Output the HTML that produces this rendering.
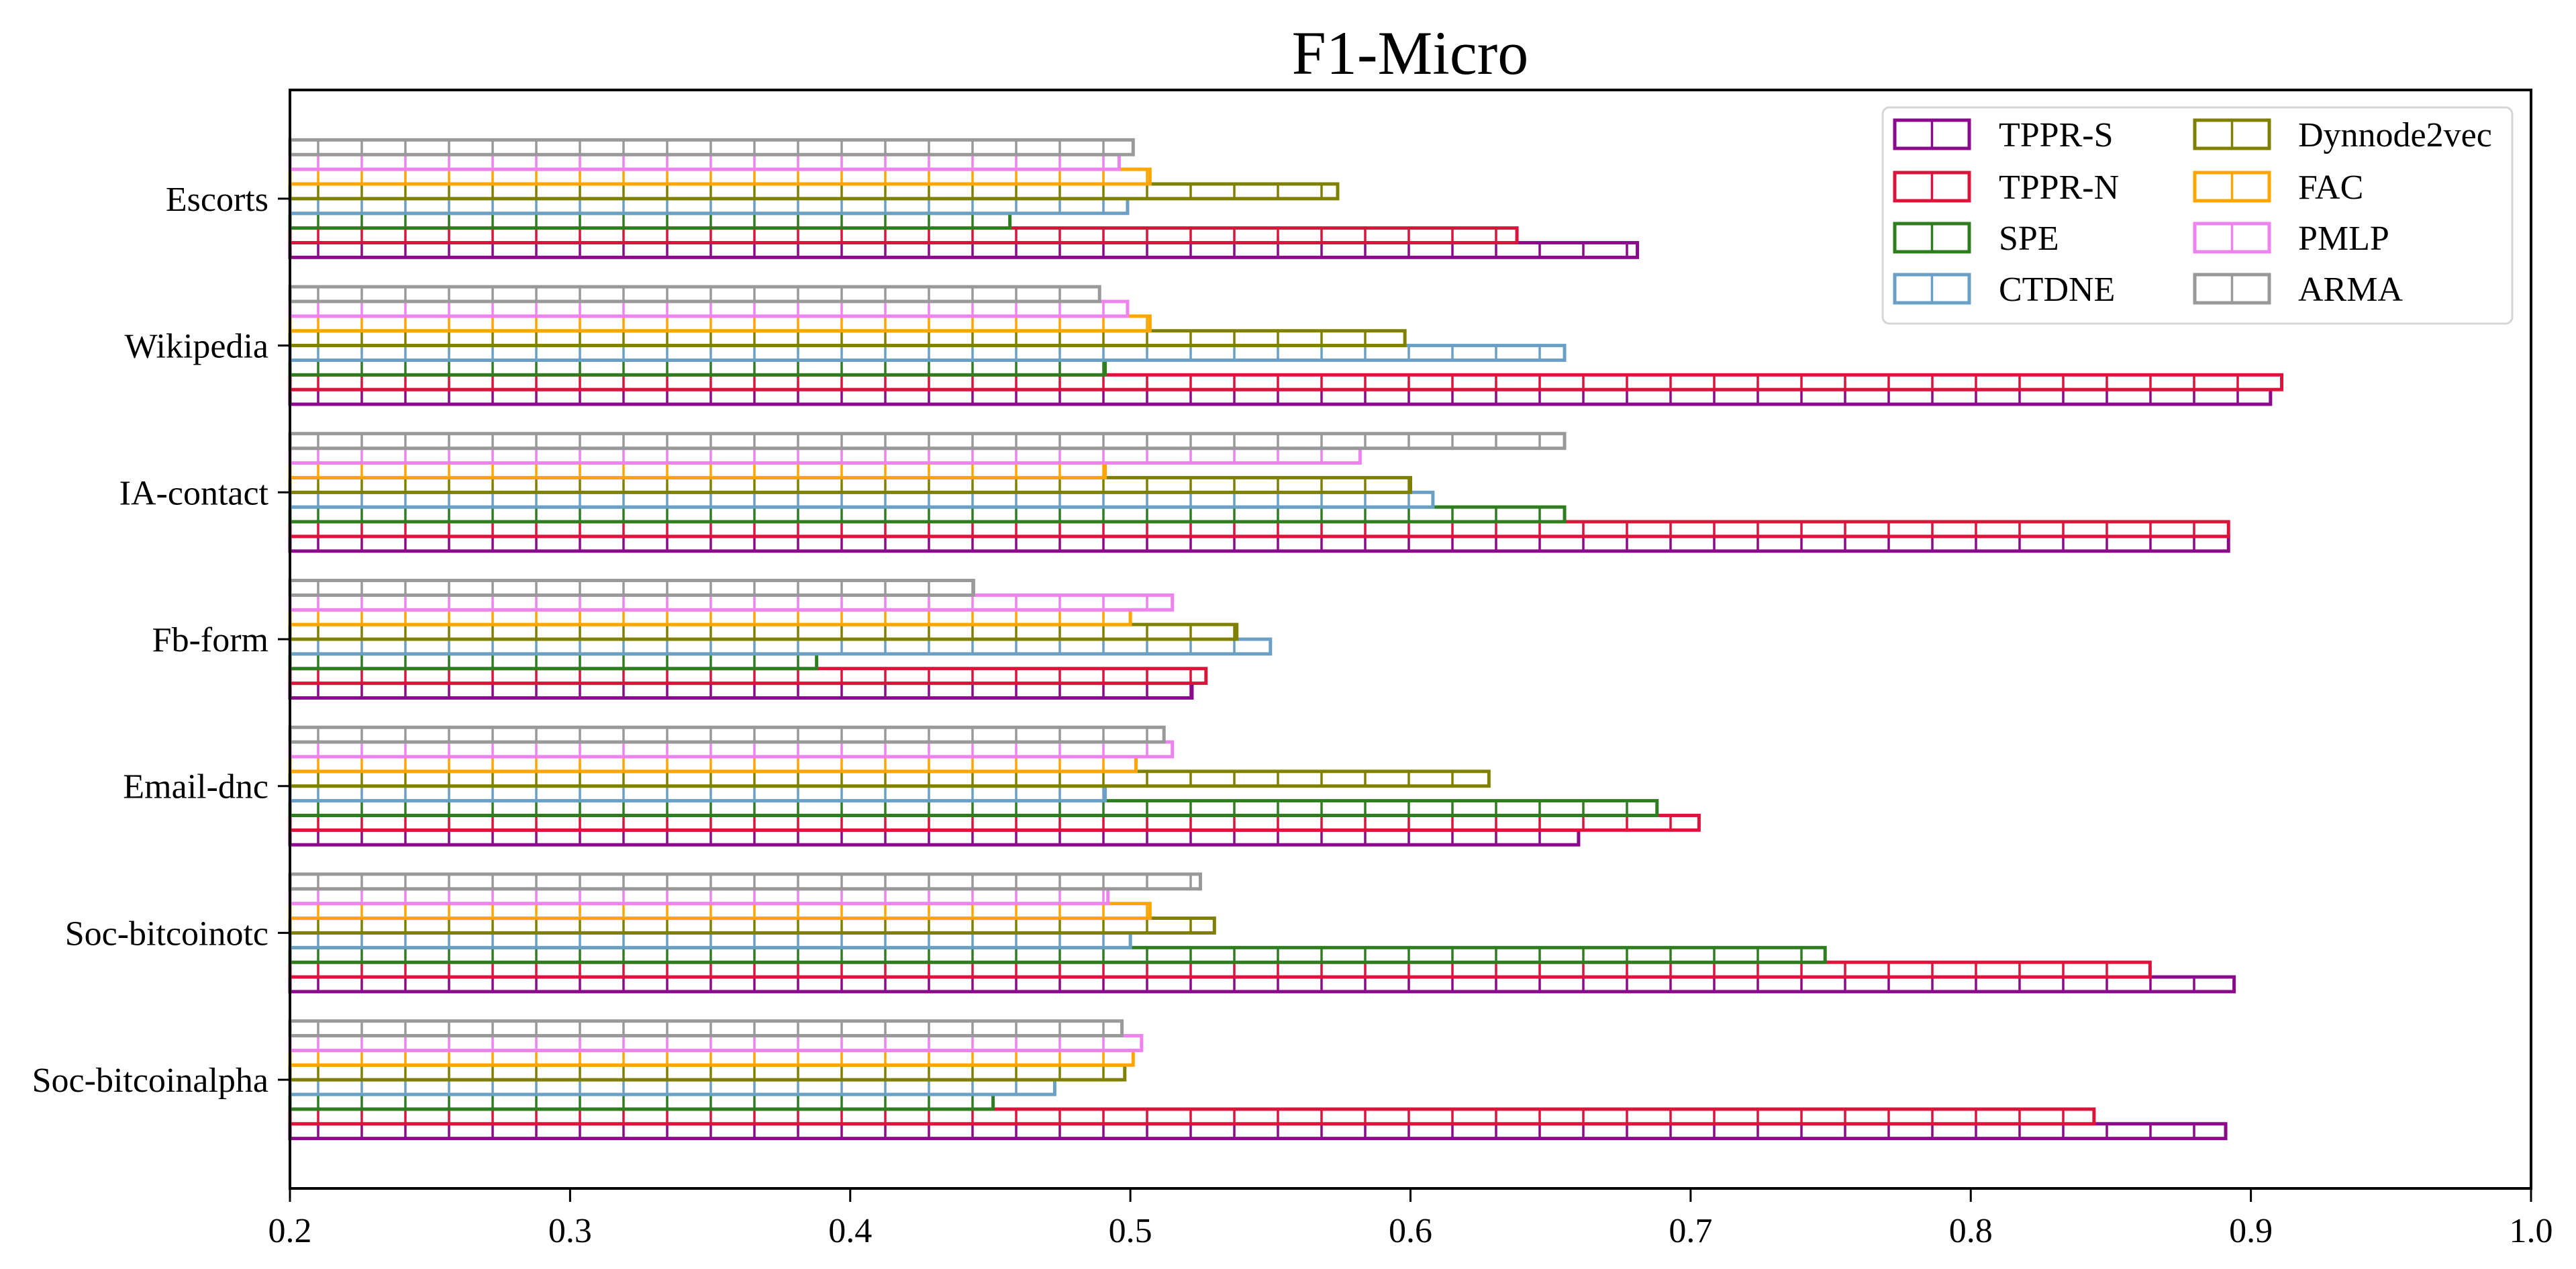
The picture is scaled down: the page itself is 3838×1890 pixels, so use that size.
<!DOCTYPE html>
<html><head><meta charset="utf-8"><style>
html,body{margin:0;padding:0;background:#fff;}
svg{display:block;font-family:"Liberation Serif","Times New Roman",serif;}
</style></head><body>
<svg id="chart" width="3838" height="1890" viewBox="0 0 3838 1890" xmlns="http://www.w3.org/2000/svg">
<defs id="defs"></defs>
<rect x="0" y="0" width="3838" height="1890" fill="#fff"/>
<text x="2101" y="110" font-size="92" text-anchor="middle" fill="#000">F1-Micro</text>
<g id="bars"></g>
<g id="axes"></g>
<g id="legend"></g>
</svg>
<script>
const categories = ["Soc-bitcoinalpha","Soc-bitcoinotc","Email-dnc","Fb-form","IA-contact","Wikipedia","Escorts"];
const seriesNames = ["TPPR-S","TPPR-N","SPE","CTDNE","Dynnode2vec","FAC","PMLP","ARMA"];
const seriesColors = ["#8B0A8B","#DC143C","#2E7D1F","#6A9FC6","#808000","#FFA500","#EE82EE","#999999"];
const tpprS = [0.891,0.894,0.660,0.522,0.892,0.907,0.681];
const tpprN = [0.844,0.864,0.703,0.527,0.892,0.911,0.638];
const spe = [0.451,0.748,0.688,0.388,0.655,0.491,0.457];
const ctdne = [0.473,0.500,0.491,0.550,0.608,0.655,0.499];
const dyn = [0.498,0.530,0.628,0.538,0.600,0.598,0.574];
const fac = [0.501,0.507,0.502,0.500,0.491,0.507,0.507];
const pmlp = [0.504,0.492,0.515,0.515,0.582,0.499,0.496];
const arma = [0.497,0.525,0.512,0.444,0.655,0.489,0.501];
const xTicks = [0.2,0.3,0.4,0.5,0.6,0.7,0.8,0.9,1.0];
const xTickLabels = ["0.2","0.3","0.4","0.5","0.6","0.7","0.8","0.9","1.0"];

const series = [tpprS,tpprN,spe,ctdne,dyn,fac,pmlp,arma];
const NS = "http://www.w3.org/2000/svg";
const L = 432, R = 3771, T = 134, B = 1770;
const xMin = 0.2, xMax = 1.0, yMin = -0.74, yMax = 6.74;
function xs(v){ return L + (v - xMin) / (xMax - xMin) * (R - L); }
function ys(c){ return B - (c - yMin) / (yMax - yMin) * (B - T); }
const catStep = (B - T) / (yMax - yMin);
const bh = 0.8 * catStep / seriesNames.length;

function mk(tag, attrs, parent){
  const e = document.createElementNS(NS, tag);
  for (const k in attrs) e.setAttribute(k, attrs[k]);
  parent.appendChild(e);
  return e;
}
const defs = document.getElementById('defs');
seriesColors.forEach((c, i) => {
  const p = mk('pattern', {id:'hatch'+i, patternUnits:'userSpaceOnUse', x:474-32.5, y:0, width:65, height:100}, defs);
  mk('rect', {x:0, y:0, width:65, height:100, fill:'#fff'}, p);
  mk('line', {x1:32.5, y1:0, x2:32.5, y2:100, stroke:c, 'stroke-width':3.5}, p);
});

const bars = document.getElementById('bars');
series.forEach((vals, si) => {
  vals.forEach((v, ci) => {
    const yc = ys(ci) - (si - 3.5) * bh;
    const r = mk('rect', {x: xs(xMin), y: yc - bh/2, width: xs(v) - xs(xMin), height: bh,
      fill: 'url(#hatch'+si+')', stroke: seriesColors[si], 'stroke-width': 5}, bars);
    
    
  });
});

const axes = document.getElementById('axes');
const frame = mk('rect', {x:L, y:T, width:R-L, height:B-T, fill:'none', stroke:'#000', 'stroke-width':4}, axes);


xTicks.forEach((t, i) => {
  const tk = mk('line', {x1:xs(t), y1:B, x2:xs(t), y2:B+20, stroke:'#000', 'stroke-width':3}, axes);
  
  
  const tx = mk('text', {x:xs(t), y:B+80, 'font-size':52, 'text-anchor':'middle', fill:'#000'}, axes);
  tx.textContent = xTickLabels[i];
  
  
});
categories.forEach((c, i) => {
  const tk = mk('line', {x1:L-18, y1:ys(i), x2:L, y2:ys(i), stroke:'#000', 'stroke-width':3}, axes);
  
  
  const tx = mk('text', {x:L-32, y:ys(i)+18, 'font-size':52, 'text-anchor':'end', fill:'#000'}, axes);
  tx.textContent = c;
  
  
});

const legend = document.getElementById('legend');
const lb = mk('rect', {x:2805, y:160, width:938, height:322, rx:10, fill:'#fff', stroke:'#d6d6d6', 'stroke-width':3}, legend);


const rowY = [200, 278, 354, 430];
seriesNames.forEach((n, i) => {
  const col = Math.floor(i / 4), row = i % 4;
  const px = col ? 3270 : 2823, tx0 = col ? 3424 : 2978;
  const g = mk('g', {}, legend);
  
  
  mk('rect', {x:px, y:rowY[row]-21, width:111, height:42, fill:'#fff', stroke:seriesColors[i], 'stroke-width':5}, g);
  mk('line', {x1:px+55.5, y1:rowY[row]-21, x2:px+55.5, y2:rowY[row]+21, stroke:seriesColors[i], 'stroke-width':3.5}, g);
  const t = mk('text', {x:tx0, y:rowY[row]+18, 'font-size':52, fill:'#000'}, g);
  t.textContent = n;
});
</script>
</body></html>
